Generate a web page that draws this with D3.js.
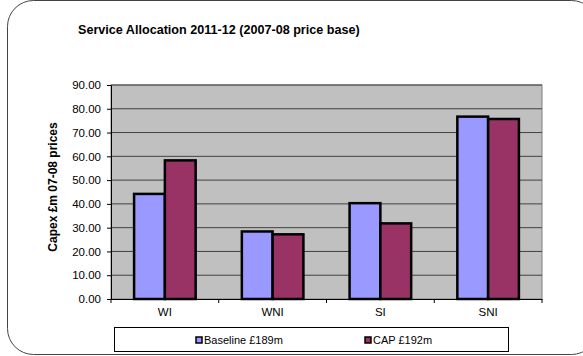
<!DOCTYPE html>
<html>
<head>
<meta charset="utf-8">
<script src="https://cdn.jsdelivr.net/npm/d3@7"></script>
<style>
  body { margin: 0; background: #fff; }
  svg { font-family: "Liberation Sans", Arial, sans-serif; }
</style>
</head>
<body>
<div id="graphe"></div>
<script>
var categories = ["WI", "WNI", "SI", "SNI"];
var series = ["Baseline £189m", "CAP £192m"];
var baseline = [44.2, 28.4, 40.3, 76.7];
var cap = [58.3, 27.2, 31.8, 75.7];
var couleurs = ["#9999ff", "#993366"];
var ticksY = [0, 10, 20, 30, 40, 50, 60, 70, 80, 90];

const largeur = 583, hauteur = 356;
const marge = { gauche: 111, droite: 41, haut: 85, bas: 57 };

const svg = d3.select("#graphe").append("svg")
    .attr("width", largeur)
    .attr("height", hauteur);

// cadre arrondi
svg.append("rect")
    .attr("x", 7.5).attr("y", 0.5)
    .attr("width", 590).attr("height", 354)
    .attr("rx", 26).attr("ry", 26)
    .attr("fill", "none")
    .attr("stroke", "#444")
    .attr("stroke-width", 1);

svg.append("text")
    .attr("x", 78).attr("y", 34)
    .attr("font-size", 12.6).attr("font-weight", "bold")
    .text("Service Allocation 2011-12 (2007-08 price base)");

const x0 = marge.gauche, x1 = largeur - marge.droite;
const y0 = hauteur - marge.bas, y1 = marge.haut;

const x = d3.scaleBand().domain(categories).range([x0, x1]);
const y = d3.scaleLinear().domain([0, 90]).range([y0, y1]);
const xs = d3.scaleBand().domain(series).range([0, x.bandwidth()])
    .paddingInner(0).paddingOuter(0.75);

svg.append("rect")
    .attr("x", x0).attr("y", y1)
    .attr("width", x1 - x0).attr("height", y0 - y1)
    .attr("fill", "#c0c0c0")
    .attr("stroke", "#808080");

// lignes de grille
svg.append("g").selectAll("line")
    .data(ticksY.slice(1))
    .join("line")
    .attr("x1", x0).attr("x2", x1)
    .attr("y1", d => y(d)).attr("y2", d => y(d))
    .attr("stroke", "#404040").attr("stroke-width", 1);

const axeY = svg.append("g")
    .attr("transform", "translate(" + x0 + ",0)")
    .call(d3.axisLeft(y).tickValues(ticksY).tickFormat(d3.format(".2f")).tickSize(4).tickPadding(6));
axeY.select(".domain").attr("stroke", "#000");
axeY.selectAll("text").attr("font-size", 11.5).attr("fill", "#000")
    .attr("font-family", "Liberation Sans, Arial, sans-serif");

const donnees = categories.map((c, i) => ({ cat: c, valeurs: [baseline[i], cap[i]] }));

const groupes = svg.append("g").selectAll("g")
    .data(donnees)
    .join("g")
    .attr("transform", d => "translate(" + x(d.cat) + ",0)");

groupes.selectAll("rect")
    .data(d => d.valeurs.map((v, j) => ({ s: series[j], v: v, j: j })))
    .join("rect")
    .attr("x", d => xs(d.s))
    .attr("y", d => y(d.v))
    .attr("width", xs.bandwidth())
    .attr("height", d => y0 - y(d.v))
    .attr("fill", d => couleurs[d.j])
    .attr("stroke", "#000")
    .attr("stroke-width", 2.5);

const axeX = svg.append("g")
    .attr("transform", "translate(0," + y0 + ")")
    .call(d3.axisBottom(x).tickSize(0).tickPadding(9));
axeX.select(".domain").attr("stroke", "#000");
axeX.selectAll("text").attr("font-size", 11.5).attr("fill", "#000")
    .attr("font-family", "Liberation Sans, Arial, sans-serif");
// petites graduations entre les catégories
axeX.selectAll("line.sep")
    .data(d3.range(categories.length + 1))
    .join("line")
    .attr("class", "sep")
    .attr("x1", i => x0 + i * x.step()).attr("x2", i => x0 + i * x.step())
    .attr("y1", 0).attr("y2", 4)
    .attr("stroke", "#000");

svg.append("text")
    .attr("transform", "translate(57,187) rotate(-90)")
    .attr("text-anchor", "middle")
    .attr("font-size", 12).attr("font-weight", "bold")
    .text("Capex £m 07-08 prices");

// légende
const legende = svg.append("g");
legende.append("rect")
    .attr("x", 114.5).attr("y", 327.5)
    .attr("width", 394).attr("height", 24)
    .attr("fill", "#fff").attr("stroke", "#000");

const posLegende = [196, 365];
series.forEach((s, i) => {
    legende.append("rect")
        .attr("x", posLegende[i]).attr("y", 337)
        .attr("width", 6).attr("height", 6)
        .attr("fill", couleurs[i]).attr("stroke", "#000").attr("stroke-width", 1.5);
    legende.append("text")
        .attr("x", posLegende[i] + 8).attr("y", 344)
        .attr("font-size", 11)
        .text(s);
});
</script>
</body>
</html>
